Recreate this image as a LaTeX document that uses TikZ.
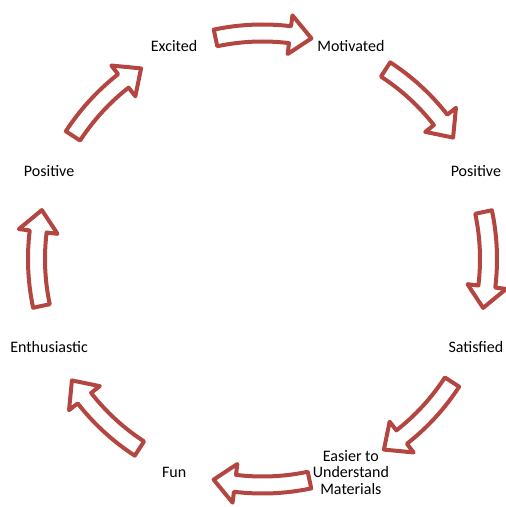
\documentclass[tikz,border=0pt]{standalone}
\usepackage{fontspec}
\setmainfont{Carlito}
\usetikzlibrary{positioning}
\definecolor{arrowred}{RGB}{180,70,65}
\tikzset{
  cyclelabel/.style={font=\fontsize{16}{16.5}\selectfont, align=center, inner sep=0pt},
  cyclearrow/.style={draw=arrowred, line width=4pt, fill=white, line join=round},
}
\begin{document}
\begin{tikzpicture}[x=1pt,y=1pt]
  \useasboundingbox (0,0) rectangle (506,507);
  \coordinate (c) at (262.5,248);

  % labels round the cycle
  \path (c) ++(112.5:231)  node[cyclelabel] (excited)   {Excited};
  \path (c) ++(67.5:231)   node[cyclelabel] (motivated) {Motivated};
  \path (c) ++(22.5:231)   node[cyclelabel] (posright)  {Positive};
  \path (c) ++(-22.5:231)  node[cyclelabel] (satisfied) {Satisfied};
  \path (c) ++(-67.5:231)  node[cyclelabel] (easier)    {Easier to\\Understand\\Materials};
  \path (c) ++(-112.5:231) node[cyclelabel] (fun)       {Fun};
  \path (c) ++(-157.5:231) node[cyclelabel] (enthus)    {Enthusiastic};
  \path (c) ++(157.5:231)  node[cyclelabel] (posleft)   {Positive};

  % curved block arrows, clockwise
  \foreach \t in {90,45,0,-45,-90,-135,180,135}
    \draw[cyclearrow, shift={(c)}]
      (\t+12:234.5) arc[start angle=\t+12, end angle=\t-7, radius=234.5]
      -- (\t-7:245.5) -- (\t-12.5:226) -- (\t-7:206.5) -- (\t-7:217.5)
      arc[start angle=\t-7, end angle=\t+12, radius=217.5] -- cycle;
\end{tikzpicture}
\end{document}
